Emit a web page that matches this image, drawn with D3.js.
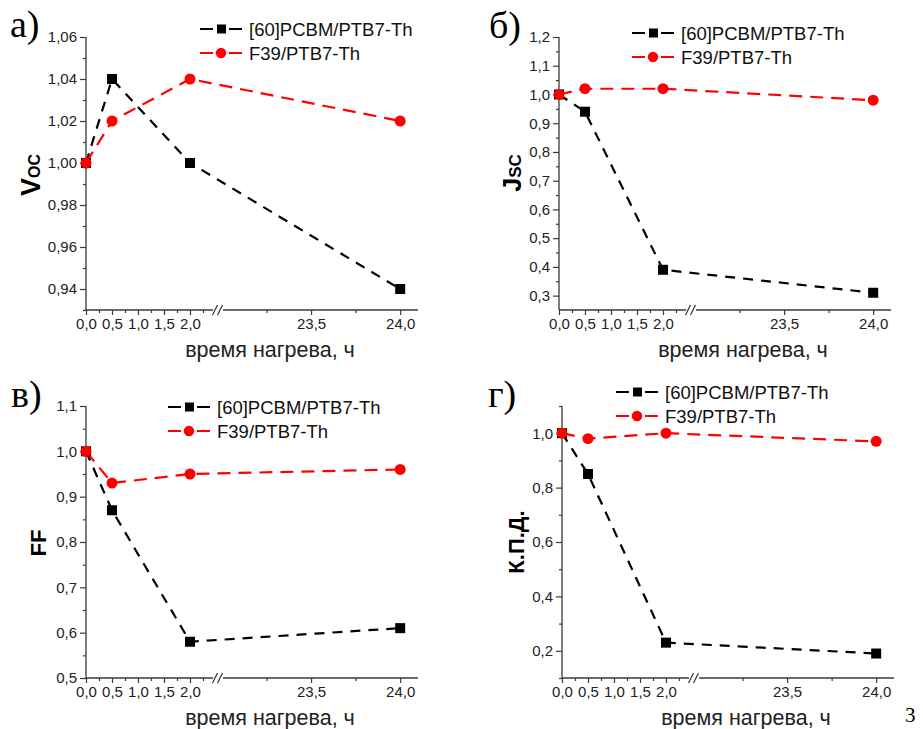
<!DOCTYPE html>
<html>
<head>
<meta charset="utf-8">
<script src="https://cdn.jsdelivr.net/npm/d3@7"></script>
<style>
  html, body { margin: 0; padding: 0; background: #fff; }
  svg { display: block; }
</style>
</head>
<body>
<svg id="chart" width="923" height="729"></svg>
<script>
// ---- data ----
const timeH = [0, 0.5, 2, 24];
const seriesNames = ["[60]PCBM/PTB7-Th", "F39/PTB7-Th"];
const vocPCBM = [1.00, 1.04, 1.00, 0.94];
const vocF39  = [1.00, 1.02, 1.04, 1.02];
const jscPCBM = [1.00, 0.94, 0.39, 0.31];
const jscF39  = [1.00, 1.02, 1.02, 0.98];
const ffPCBM  = [1.00, 0.87, 0.58, 0.61];
const ffF39   = [1.00, 0.93, 0.95, 0.96];
const pcePCBM = [1.00, 0.85, 0.23, 0.19];
const pceF39  = [1.00, 0.98, 1.00, 0.97];
const xMajorTicks = [0, 0.5, 1, 1.5, 2, 23.5, 24];
const xTickLabels = ["0,0", "0,5", "1,0", "1,5", "2,0", "23,5", "24,0"];
const xMinorTicks = [0.25, 0.75, 1.25, 1.75, 2.25, 23.25, 23.75];
const vocTicks = [0.94, 0.96, 0.98, 1.00, 1.02, 1.04, 1.06];
const vocMinor = [0.93, 0.95, 0.97, 0.99, 1.01, 1.03, 1.05];
const jscTicks = [0.3, 0.4, 0.5, 0.6, 0.7, 0.8, 0.9, 1.0, 1.1, 1.2];
const jscMinor = [0.35, 0.45, 0.55, 0.65, 0.75, 0.85, 0.95, 1.05, 1.15];
const ffTicks = [0.5, 0.6, 0.7, 0.8, 0.9, 1.0, 1.1];
const ffMinor = [0.55, 0.65, 0.75, 0.85, 0.95, 1.05];
const pceTicks = [0.2, 0.4, 0.6, 0.8, 1.0];
const pceMinor = [0.1, 0.3, 0.5, 0.7, 0.9, 1.1];
const panelLetters = ["а)", "б)", "в)", "г)"];
const xTitle = "время нагрева, ч";

// ---- layout ----
const SANS = "'Liberation Sans', Arial, sans-serif";
const SERIF = "'Liberation Serif', 'Times New Roman', serif";
const colors = ["#000000", "#ff0000"];
const svg = d3.select("#chart");

const panels = [
  { L: 86,  T: 37,  B: 310, yDom: [0.93, 1.06], ticks: vocTicks, minor: vocMinor, fmt: d3.format(".2f"),
    s1: [vocPCBM, vocF39], ylab: ["V", "OC"], ylx: 40, yly: 175, ylsize: [27, 16],
    letter: panelLetters[0], lx: 10, ly: 37, leg: { x: 200, y: 29 } },
  { L: 559, T: 37,  B: 310, yDom: [0.25, 1.2], ticks: jscTicks, minor: jscMinor, fmt: d3.format(".1f"),
    s1: [jscPCBM, jscF39], ylab: ["J", "SC"], ylx: 521, yly: 173, ylsize: [25, 17],
    letter: panelLetters[1], lx: 489, ly: 38, leg: { x: 632, y: 33 } },
  { L: 86,  T: 406, B: 678, yDom: [0.5, 1.1], ticks: ffTicks, minor: ffMinor, fmt: d3.format(".1f"),
    s1: [ffPCBM, ffF39], ylab: ["FF", ""], ylx: 46, yly: 543, ylsize: [22, 14],
    letter: panelLetters[2], lx: 11, ly: 407, leg: { x: 168, y: 407 } },
  { L: 562, T: 406, B: 678, yDom: [0.1, 1.1], ticks: pceTicks, minor: pceMinor, fmt: d3.format(".1f"),
    s1: [pcePCBM, pceF39], ylab: ["К.П.Д.", ""], ylx: 524, yly: 542, ylsize: [22, 14],
    letter: panelLetters[3], lx: 488, ly: 407, leg: { x: 616, y: 392 } }
];

const comma = s => s.replace(".", ",");

panels.forEach(p => {
  const g = svg.append("g");
  const R = p.L + 332;
  const x = d3.scaleLinear().domain([0, 2.5, 23, 24.1]).range([p.L, p.L + 130, p.L + 136, R]);
  const y = d3.scaleLinear().domain(p.yDom).range([p.B, p.T]);
  const axisColor = "#3a3a3a";

  // y axis
  const yAxis = d3.axisLeft(y).tickValues(p.ticks).tickSize(6).tickPadding(3)
    .tickFormat(d => comma(p.fmt(d)));
  const ya = g.append("g").attr("transform", `translate(${p.L},0)`).call(yAxis);
  ya.select(".domain").attr("stroke", axisColor).attr("stroke-width", 1.3)
    .attr("d", `M0,${p.T}V${p.B}`);
  ya.selectAll(".tick line").attr("stroke", axisColor).attr("stroke-width", 1.2);
  ya.selectAll(".tick text").attr("fill", "#222").style("font-family", SANS).style("font-size", "15px");
  const yMinor = d3.axisLeft(y).tickValues(p.minor).tickSize(3).tickFormat("");
  const ym = g.append("g").attr("transform", `translate(${p.L},0)`).call(yMinor);
  ym.select(".domain").remove();
  ym.selectAll(".tick line").attr("stroke", axisColor).attr("stroke-width", 1.2);

  // x axis
  const xAxis = d3.axisBottom(x).tickValues(xMajorTicks).tickSize(5).tickPadding(3)
    .tickFormat((d, i) => xTickLabels[i]);
  const xa = g.append("g").attr("transform", `translate(0,${p.B})`).call(xAxis);
  xa.select(".domain").remove();
  xa.selectAll(".tick line").attr("stroke", axisColor).attr("stroke-width", 1.2);
  xa.selectAll(".tick text").attr("fill", "#222").style("font-family", SANS).style("font-size", "15px");
  const xMinorAxis = d3.axisBottom(x).tickValues(xMinorTicks).tickSize(3).tickFormat("");
  const xm = g.append("g").attr("transform", `translate(0,${p.B})`).call(xMinorAxis);
  xm.select(".domain").remove();
  xm.selectAll(".tick line").attr("stroke", axisColor).attr("stroke-width", 1.2);

  // axis line with break
  const bx1 = p.L + 127, bx2 = p.L + 137;
  g.append("line").attr("x1", p.L).attr("x2", bx1).attr("y1", p.B).attr("y2", p.B)
    .attr("stroke", axisColor).attr("stroke-width", 1.3);
  g.append("line").attr("x1", bx2).attr("x2", R).attr("y1", p.B).attr("y2", p.B)
    .attr("stroke", axisColor).attr("stroke-width", 1.3);
  [bx1 + 2, bx1 + 7].forEach(cx => {
    g.append("line").attr("x1", cx - 2.5).attr("y1", p.B + 5).attr("x2", cx + 2.5).attr("y2", p.B - 5)
      .attr("stroke", axisColor).attr("stroke-width", 1.2);
  });

  // x title
  g.append("text").attr("x", p.L + 184).attr("y", p.B + 47).attr("text-anchor", "middle")
    .style("font-family", SANS).style("font-size", "21.5px").attr("fill", "#222").text(xTitle);

  // y title
  const yt = g.append("text")
    .attr("transform", `translate(${p.ylx},${p.yly}) rotate(-90)`)
    .attr("text-anchor", "middle")
    .style("font-family", SANS).style("font-weight", "bold").attr("fill", "#000");
  yt.append("tspan").style("font-size", p.ylsize[0] + "px").text(p.ylab[0]);
  if (p.ylab[1]) yt.append("tspan").style("font-size", p.ylsize[1] + "px").text(p.ylab[1]);

  // panel letter
  g.append("text").attr("x", p.lx).attr("y", p.ly)
    .style("font-family", SERIF).style("font-size", "38px").attr("fill", "#000").text(p.letter);

  // series
  const line = d3.line().x((d, i) => x(timeH[i])).y(d => y(d));
  p.s1.forEach((vals, si) => {
    g.append("path").datum(vals).attr("d", line).attr("fill", "none")
      .attr("stroke", colors[si]).attr("stroke-width", 2.2)
      .attr("stroke-dasharray", si === 0 ? "10,8" : "13,8");
  });
  p.s1.forEach((vals, si) => {
    if (si === 0) {
      g.selectAll(null).data(vals).enter().append("rect")
        .attr("x", (d, i) => x(timeH[i]) - 5).attr("y", d => y(d) - 5)
        .attr("width", 10).attr("height", 10).attr("fill", colors[0]);
    } else {
      g.selectAll(null).data(vals).enter().append("circle")
        .attr("cx", (d, i) => x(timeH[i])).attr("cy", d => y(d)).attr("r", 5.5)
        .attr("fill", colors[1]);
    }
  });

  // legend
  seriesNames.forEach((name, si) => {
    const ly = p.leg.y + si * 24;
    const lg = g.append("g");
    lg.append("line").attr("x1", p.leg.x).attr("x2", p.leg.x + 42).attr("y1", ly).attr("y2", ly)
      .attr("stroke", colors[si]).attr("stroke-width", 2.2).attr("stroke-dasharray", "13,16,13");
    if (si === 0) {
      lg.append("rect").attr("x", p.leg.x + 17).attr("y", ly - 4.5).attr("width", 9).attr("height", 9)
        .attr("fill", colors[0]);
    } else {
      lg.append("circle").attr("cx", p.leg.x + 21).attr("cy", ly).attr("r", 5.2).attr("fill", colors[1]);
    }
    lg.append("text").attr("x", p.leg.x + 49).attr("y", ly + 6.5)
      .style("font-family", SANS).style("font-size", "18.5px").attr("fill", "#111").text(name);
  });
});

// page number
svg.append("text").attr("x", 905).attr("y", 722)
  .style("font-family", SERIF).style("font-size", "21px").attr("fill", "#000").text("3");
</script>
</body>
</html>
